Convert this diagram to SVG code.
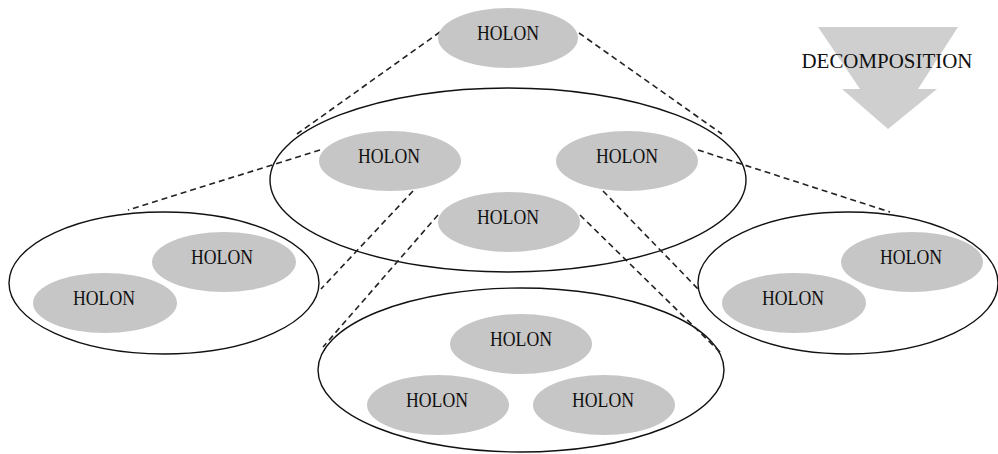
<svg xmlns="http://www.w3.org/2000/svg" width="998" height="454" viewBox="0 0 998 454">
<style>
.box{fill:#ffffff;stroke:#111;stroke-width:1.4}
.h{fill:#c6c6c6;stroke:none}
.t{font-family:"Liberation Serif",serif;font-size:22px;fill:#111;text-anchor:middle}
.c{fill:none;stroke:#222;stroke-width:1.6;stroke-dasharray:6 4}
</style>
<rect width="998" height="454" fill="#fff"/>
<g id="decomposition">
<polygon points="818,27 958,27 918,89 937,89 888,129 842,89 860,89" fill="#cfcfcf"/>
<text class="t" x="887" y="68" textLength="171" lengthAdjust="spacingAndGlyphs">DECOMPOSITION</text>
</g>
<g id="container-middle"><ellipse class="box" cx="508" cy="180" rx="238" ry="92"/></g>
<g id="container-left"><ellipse class="box" cx="164" cy="283" rx="155" ry="71"/></g>
<g id="container-right"><ellipse class="box" cx="848" cy="283" rx="150" ry="71"/></g>
<g id="container-bottom"><ellipse class="box" cx="521" cy="370" rx="203" ry="82"/></g>
<g id="connectors">
<line class="c" x1="440" y1="32" x2="297" y2="134"/>
<line class="c" x1="579" y1="33" x2="722" y2="134"/>
<line class="c" x1="320" y1="150" x2="128" y2="210"/>
<line class="c" x1="413" y1="191" x2="321" y2="289"/>
<line class="c" x1="438" y1="215" x2="323" y2="347"/>
<line class="c" x1="580" y1="215" x2="722" y2="354"/>
<line class="c" x1="698" y1="150" x2="890" y2="212"/>
<line class="c" x1="603" y1="191" x2="699" y2="290"/>
</g>
<g id="holon-top"><ellipse class="h" cx="508" cy="38" rx="70" ry="30"/><text class="t" x="508" y="40" textLength="62" lengthAdjust="spacingAndGlyphs">HOLON</text></g>
<g id="holon-mid-left"><ellipse class="h" cx="390" cy="161" rx="71" ry="30"/><text class="t" x="389" y="163" textLength="62" lengthAdjust="spacingAndGlyphs">HOLON</text></g>
<g id="holon-mid-right"><ellipse class="h" cx="627" cy="161" rx="71" ry="30"/><text class="t" x="627" y="163" textLength="62" lengthAdjust="spacingAndGlyphs">HOLON</text></g>
<g id="holon-mid-center"><ellipse class="h" cx="509" cy="222" rx="71" ry="30"/><text class="t" x="508" y="224" textLength="62" lengthAdjust="spacingAndGlyphs">HOLON</text></g>
<g id="holon-left-a"><ellipse class="h" cx="224" cy="262" rx="72" ry="30"/><text class="t" x="222" y="264" textLength="62" lengthAdjust="spacingAndGlyphs">HOLON</text></g>
<g id="holon-left-b"><ellipse class="h" cx="105" cy="303" rx="72" ry="30"/><text class="t" x="104" y="305" textLength="62" lengthAdjust="spacingAndGlyphs">HOLON</text></g>
<g id="holon-right-a"><ellipse class="h" cx="912" cy="262" rx="71" ry="30"/><text class="t" x="911" y="264" textLength="62" lengthAdjust="spacingAndGlyphs">HOLON</text></g>
<g id="holon-right-b"><ellipse class="h" cx="794" cy="303" rx="72" ry="30"/><text class="t" x="793" y="305" textLength="62" lengthAdjust="spacingAndGlyphs">HOLON</text></g>
<g id="holon-bottom-top"><ellipse class="h" cx="521" cy="344" rx="71" ry="30"/><text class="t" x="521" y="346" textLength="62" lengthAdjust="spacingAndGlyphs">HOLON</text></g>
<g id="holon-bottom-left"><ellipse class="h" cx="438" cy="405" rx="71" ry="30"/><text class="t" x="437" y="407" textLength="62" lengthAdjust="spacingAndGlyphs">HOLON</text></g>
<g id="holon-bottom-right"><ellipse class="h" cx="604" cy="405" rx="71" ry="30"/><text class="t" x="603" y="407" textLength="62" lengthAdjust="spacingAndGlyphs">HOLON</text></g>
</svg>
